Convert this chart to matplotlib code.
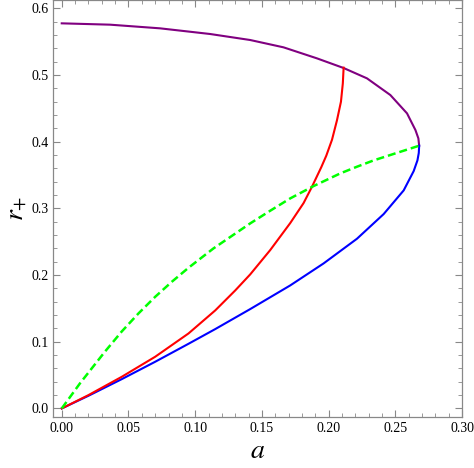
import matplotlib
matplotlib.use("Agg")
import matplotlib.pyplot as plt
from matplotlib.ticker import MultipleLocator

plt.rcParams['font.family'] = 'serif'
plt.rcParams['font.serif'] = ['Liberation Serif', 'DejaVu Serif']
plt.rcParams['mathtext.fontset'] = 'stix'

# upper (purple) branch
a_purple = [0.0, 0.0362, 0.0737, 0.1112, 0.1412, 0.1662, 0.1912, 0.2112, 0.2287,
            0.2462, 0.2587, 0.265, 0.2672, 0.2678]
r_purple = [0.5775, 0.5755, 0.57, 0.5615, 0.5525, 0.5415, 0.525, 0.5105, 0.495,
            0.47, 0.4425, 0.4175, 0.405, 0.394]

# lower (blue) branch
a_blue = [0.0, 0.02, 0.045, 0.07, 0.095, 0.115, 0.1412, 0.1712, 0.1962, 0.2212,
          0.2412, 0.2562, 0.2637, 0.2665, 0.2675, 0.2678]
r_blue = [0.0, 0.019, 0.044, 0.07, 0.097, 0.119, 0.149, 0.1845, 0.2175, 0.2545,
          0.2915, 0.327, 0.356, 0.372, 0.383, 0.394]

# red curve
a_red = [0.0, 0.02, 0.045, 0.07, 0.095, 0.115, 0.13, 0.1412, 0.1562, 0.1712, 0.1812,
         0.1875, 0.1945, 0.1982, 0.2025, 0.2062, 0.2092, 0.2106, 0.2112]
r_red = [0.0, 0.02, 0.0475, 0.0775, 0.1125, 0.147, 0.177, 0.201, 0.2375, 0.278, 0.308,
         0.3325, 0.362, 0.379, 0.403, 0.432, 0.46, 0.4875, 0.511]

# green dashed curve
a_green = [0.0, 0.0138, 0.0325, 0.045, 0.0575, 0.07, 0.0825, 0.095, 0.1137, 0.1412,
           0.1562, 0.1712, 0.1887, 0.2087, 0.2212, 0.2337, 0.2678]
r_green = [0.0, 0.038, 0.0855, 0.1155, 0.1425, 0.1674, 0.19, 0.211, 0.24, 0.2775,
           0.2965, 0.315, 0.3335, 0.3525, 0.3625, 0.372, 0.394]

fig = plt.figure(figsize=(4.74, 4.68), dpi=100)
ax = fig.add_axes([0.1125, 0.108, 0.8625, 0.892])

ax.plot(a_purple, r_purple, color=(0.5, 0.0, 0.5), lw=1.5, solid_joinstyle='round')
ax.plot(a_blue, r_blue, color=(0.0, 0.0, 1.0), lw=1.5, solid_joinstyle='round')
ax.plot(a_red, r_red, color=(1.0, 0.0, 0.0), lw=1.5, solid_joinstyle='round')
ax.plot(a_green, r_green, color=(0.0, 1.0, 0.0), lw=1.8, dashes=(3.2, 1.6))

ax.set_xlim(-0.0063, 0.3)
ax.set_ylim(-0.0135, 0.6125)
ax.xaxis.set_major_locator(MultipleLocator(0.05))
ax.xaxis.set_minor_locator(MultipleLocator(0.01))
ax.yaxis.set_major_locator(MultipleLocator(0.1))
ax.yaxis.set_minor_locator(MultipleLocator(0.02))
ax.xaxis.set_major_formatter(plt.FuncFormatter(lambda v, p: f"{v:.2f}"))
ax.yaxis.set_major_formatter(plt.FuncFormatter(lambda v, p: f"{v:.1f}"))

ax.tick_params(which='both', direction='in', top=True, right=True, color='#888888', labelsize=10)
ax.tick_params(which='major', length=5, width=0.8)
ax.tick_params(which='minor', length=3, width=0.6)
for s in ax.spines.values():
    s.set_color('#888888')
    s.set_linewidth(0.9)

ax.set_xlabel(r'$a$', fontsize=20, labelpad=3)
ax.set_ylabel(r'$r_{+}$', fontsize=20, labelpad=2)

fig.savefig('out.png', dpi=100)
